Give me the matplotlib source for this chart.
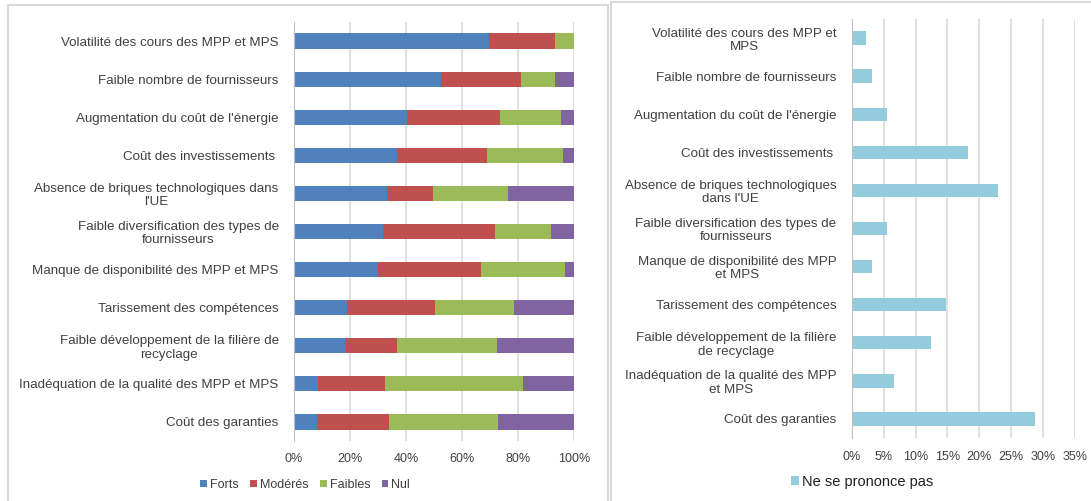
import matplotlib
matplotlib.use("Agg")
import matplotlib.pyplot as plt
from matplotlib.patches import Rectangle
from matplotlib.ticker import PercentFormatter
import numpy as np

plt.rcParams['font.family'] = ['Liberation Sans', 'DejaVu Sans']

# categories, top to bottom
left_labels = [
    "Volatilité des cours des MPP et MPS",
    "Faible nombre de fournisseurs",
    "Augmentation du coût de l'énergie",
    "Coût des investissements ",
    "Absence de briques technologiques dans\nl'UE",
    "Faible diversification des types de\nfournisseurs",
    "Manque de disponibilité des MPP et MPS",
    "Tarissement des compétences",
    "Faible développement de la filière de\nrecyclage",
    "Inadéquation de la qualité des MPP et MPS",
    "Coût des garanties",
]
right_labels = [
    "Volatilité des cours des MPP et\nMPS",
    "Faible nombre de fournisseurs",
    "Augmentation du coût de l'énergie",
    "Coût des investissements ",
    "Absence de briques technologiques\ndans l'UE",
    "Faible diversification des types de\nfournisseurs",
    "Manque de disponibilité des MPP\net MPS",
    "Tarissement des compétences",
    "Faible développement de la filière\nde recyclage",
    "Inadéquation de la qualité des MPP\net MPS",
    "Coût des garanties",
]

# shares in %
forts   = [69.6, 52.6, 40.4, 36.7, 33.1, 31.9, 30.0, 19.1, 18.5, 8.7, 8.1]
moderes = [23.7, 28.6, 33.0, 32.4, 16.5, 40.0, 36.8, 31.1, 18.3, 23.7, 25.8]
faibles = [6.7, 12.1, 22.0, 27.1, 26.9, 20.0, 30.1, 28.5, 35.7, 49.3, 39.0]
nul     = [0.0, 6.7, 4.6, 3.8, 23.5, 8.1, 3.1, 21.3, 27.5, 18.3, 27.1]
ne_se_prononce = [2.2, 3.2, 5.6, 18.3, 23.0, 5.6, 3.2, 14.8, 12.5, 6.7, 28.8]

series_names = ["Forts", "Modérés", "Faibles", "Nul"]
series_colors = ["#4F81BD", "#C0504D", "#9BBB59", "#8064A2"]
npp_color = "#93CDDD"
grid_color = "#D9D9D9"
text_color = "#404040"

W, H = 1091, 501
fig = plt.figure(figsize=(W / 100, H / 100), dpi=100)

# chart area frames
fig.add_artist(Rectangle((8 / W, -0.05), 600 / W, 1 - 5 / H + 0.05, transform=fig.transFigure,
                         fill=False, edgecolor=grid_color, linewidth=1.5))
fig.add_artist(Rectangle((611 / W, -0.05), 1.0, 1 - 2 / H + 0.05, transform=fig.transFigure,
                         fill=False, edgecolor=grid_color, linewidth=1.5))


def style_axes(ax, labels):
    ax.set_yticks(np.arange(len(labels)))
    ax.set_yticklabels(labels)
    ax.set_ylim(len(labels) - 0.5, -0.5)
    for s in ("top", "right", "bottom"):
        ax.spines[s].set_visible(False)
    ax.spines["left"].set_color("#BFBFBF")
    ax.tick_params(axis="both", length=0, labelsize=9, colors=text_color)
    ax.tick_params(axis="y", pad=11, labelsize=9.6)
    ax.tick_params(axis="x", pad=9)
    for t in ax.get_yticklabels():
        t.set_multialignment("center")
        t.set_linespacing(1.15)
    ax.xaxis.grid(True, color=grid_color, linewidth=1.2)
    ax.set_axisbelow(True)
    ax.xaxis.set_major_formatter(PercentFormatter(decimals=0))


# left: stacked bars
ax1 = fig.add_axes([294 / W, 1 - 441 / H, 280 / W, 419 / H])
y = np.arange(len(left_labels))
left = np.zeros(len(y))
handles = []
for vals, name, col in zip([forts, moderes, faibles, nul], series_names, series_colors):
    b = ax1.barh(y, vals, left=left, height=0.4, color=col, label=name)
    left += np.array(vals)
    handles.append(b)
ax1.set_xlim(0, 100)
ax1.set_xticks(np.arange(0, 101, 20))
style_axes(ax1, left_labels)
fig.legend(handles=handles, loc="center", bbox_to_anchor=(305 / W, 1 - 485 / H), ncol=4,
           frameon=False, fontsize=9, handlelength=0.55, handleheight=0.55, handletextpad=0.25,
           columnspacing=0.9, labelcolor=text_color)

# right: "Ne se prononce pas"
ax2 = fig.add_axes([851.7 / W, 1 - 438 / H, 223.3 / W, 419 / H])
b2 = ax2.barh(np.arange(len(right_labels)), ne_se_prononce, height=0.35, color=npp_color,
              label="Ne se prononce pas")
ax2.set_xlim(0, 35)
ax2.set_xticks(np.arange(0, 36, 5))
style_axes(ax2, right_labels)
fig.legend(handles=[b2], loc="center", bbox_to_anchor=(862 / W, 1 - 482 / H),
           frameon=False, fontsize=10.5, handlelength=0.6, handleheight=0.6, handletextpad=0.2,
           labelcolor="#202020")

fig.savefig("out.png", dpi=100)
